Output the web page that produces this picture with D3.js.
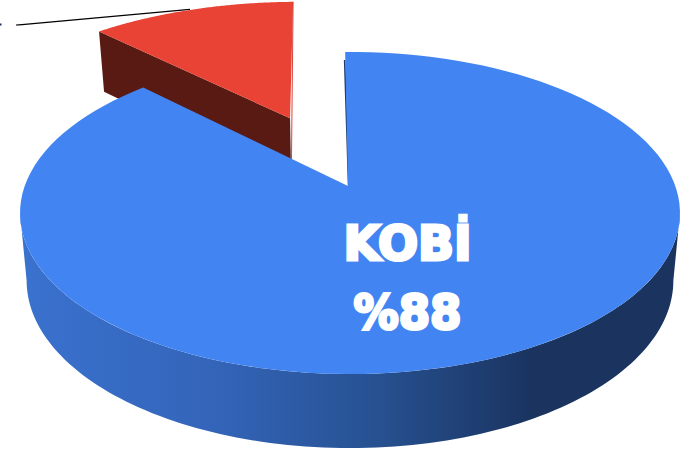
<!DOCTYPE html>
<html>
<head>
<meta charset="utf-8">
<script src="https://cdn.jsdelivr.net/npm/d3@7"></script>
<style>
  html, body { margin: 0; padding: 0; background: #fff; }
  svg { display: block; }
</style>
</head>
<body>
<div id="chart"></div>
<script>
(function () {

  const categories = ['KOBİ', 'Diğer']
  const shares = [88, 12]
  const topColors = ['#4285f2', '#e84335']
  const labelLines = ['KOBİ', '%88']

  const width = 687
  const height = 452

  const svg = d3.select('#chart').append('svg')
    .attr('width', width)
    .attr('height', height)

  // the pie lies on a tilted plane, so the hub sits above the middle of the ellipse
  const hub = { x: 348, y: 186 }
  const tilt = 0.1677
  const spreadX = 325.3
  const spreadY = 156.5
  const middle = { x: 349.5, y: 213 }

  // bend pushes the big slice's rim 2px right, the hub stays put
  function project (u, v, down, bend) {
    const w = 1 + tilt * v
    const x = hub.x + spreadX * u / w + (bend || 0) * (u * u + v * v)
    const y = hub.y - spreadY * v / w
    if (!down) return [x, y]
    return [middle.x + (x - middle.x) * 0.98, middle.y + (y - middle.y) * 1.04 + 67.6]
  }

  const slices = d3.pie().sort(null)
    .startAngle(-1 * Math.PI / 180)
    .endAngle(359 * Math.PI / 180)(shares)

  // only the small slice is pulled out of the pie
  function offsetOf (d, i) {
    if (i === 0) return [0, 0]
    const mid = (d.startAngle + d.endAngle) / 2
    return [Math.sin(mid) * 0.505 + 0.002, Math.cos(mid) * 0.505]
  }

  function rim (d, i, a0, a1, down) {
    const off = offsetOf(d, i)
    const wide = i === 0 ? 1 : 1.04
    return d3.range(0, 121).map(k => {
      const a = a0 + (a1 - a0) * k / 120
      return project(off[0] + wide * Math.sin(a), off[1] + Math.cos(a), down, i === 0 ? 2 : 0)
    })
  }

  const line = d3.line()

  const sideGradient = svg.append('defs').append('linearGradient')
    .attr('id', 'side')
    .attr('gradientUnits', 'userSpaceOnUse')
    .attr('x1', 20).attr('x2', 680).attr('y1', 0).attr('y2', 0)

  sideGradient.selectAll('stop')
    .data([[0, '#3a72cf'], [0.3, '#3364b8'], [0.55, '#26508f'], [0.78, '#1a335f'], [1, '#1a335f']])
    .join('stop')
    .attr('offset', d => d[0])
    .attr('stop-color', d => d[1])

  // red slice first, the big slice covers the foot of its wall
  const red = slices[1]
  const redOff = offsetOf(red, 1)
  const redHub = project(redOff[0], redOff[1], false)
  const redHubDown = project(redOff[0], redOff[1], true)
  const redRim = rim(red, 1, red.startAngle, red.endAngle, false)
  const redRimDown = rim(red, 1, red.startAngle, red.endAngle, true)

  // leader line going out of the chart on the left
  svg.append('path')
    .attr('d', 'M190,9.3L22,24.6Q19,25 16,25')
    .attr('fill', 'none')
    .attr('stroke', '#000')
    .attr('stroke-width', 1.2)

  svg.append('rect')
    .attr('x', 0).attr('y', 23.5)
    .attr('width', 1.5).attr('height', 2)
    .attr('fill', '#1a2a6b')

  svg.append('path')
    .attr('d', line([redRim[0], redHub, redHubDown, redRimDown[0]]) + 'Z')
    .attr('fill', '#5a1a14')

  svg.append('path')
    .attr('d', line([redHub].concat(redRim)) + 'Z')
    .attr('fill', topColors[1])

  svg.append('path')
    .attr('d', line([redRim[redRim.length - 1], redHubDown]))
    .attr('fill', 'none')
    .attr('stroke', '#d9443a')
    .attr('stroke-width', 1)

  // blue slice: side wall, sliver of the cut, top face
  const blue = slices[0]
  // the outline is widest a little below the rim's side points
  const frontA = Math.PI - Math.acos(tilt)
  const frontB = Math.PI + Math.acos(tilt)
  const wallTop = rim(blue, 0, frontA, frontB, false)
  const wallBottom = rim(blue, 0, frontA, frontB, true).reverse()

  svg.append('path')
    .attr('d', line(wallTop.concat(wallBottom)) + 'Z')
    .attr('fill', 'url(#side)')

  const blueEnd = blue.endAngle - 1.1 * Math.PI / 180
  const blueRim = rim(blue, 0, blue.startAngle, blueEnd, false)
  const blueHub = project(0, 0, false)

  svg.append('path')
    .attr('d', line([[blueRim[0][0] - 0.5, blueRim[0][1] + 8], [blueHub[0] + 0.6, blueHub[1]]]))
    .attr('fill', 'none')
    .attr('stroke', '#1d3b6e')
    .attr('stroke-width', 1.6)

  svg.append('path')
    .attr('d', line([blueHub].concat(blueRim)) + 'Z')
    .attr('fill', topColors[0])

  svg.selectAll('text.label')
    .data(labelLines)
    .join('text')
    .attr('class', 'label')
    .attr('x', 407.5)
    .attr('y', (d, i) => 260 + i * 69)
    .attr('text-anchor', 'middle')
    .attr('font-family', '"DejaVu Sans", sans-serif')
    .attr('font-weight', 700)
    .attr('font-size', 48)
    .attr('textLength', (d, i) => [128, 108][i])
    .attr('lengthAdjust', 'spacingAndGlyphs')
    .attr('fill', '#fff')
    .attr('stroke', '#fff')
    .attr('stroke-width', 3)
    .text(d => d)

})();
</script>
</body>
</html>
